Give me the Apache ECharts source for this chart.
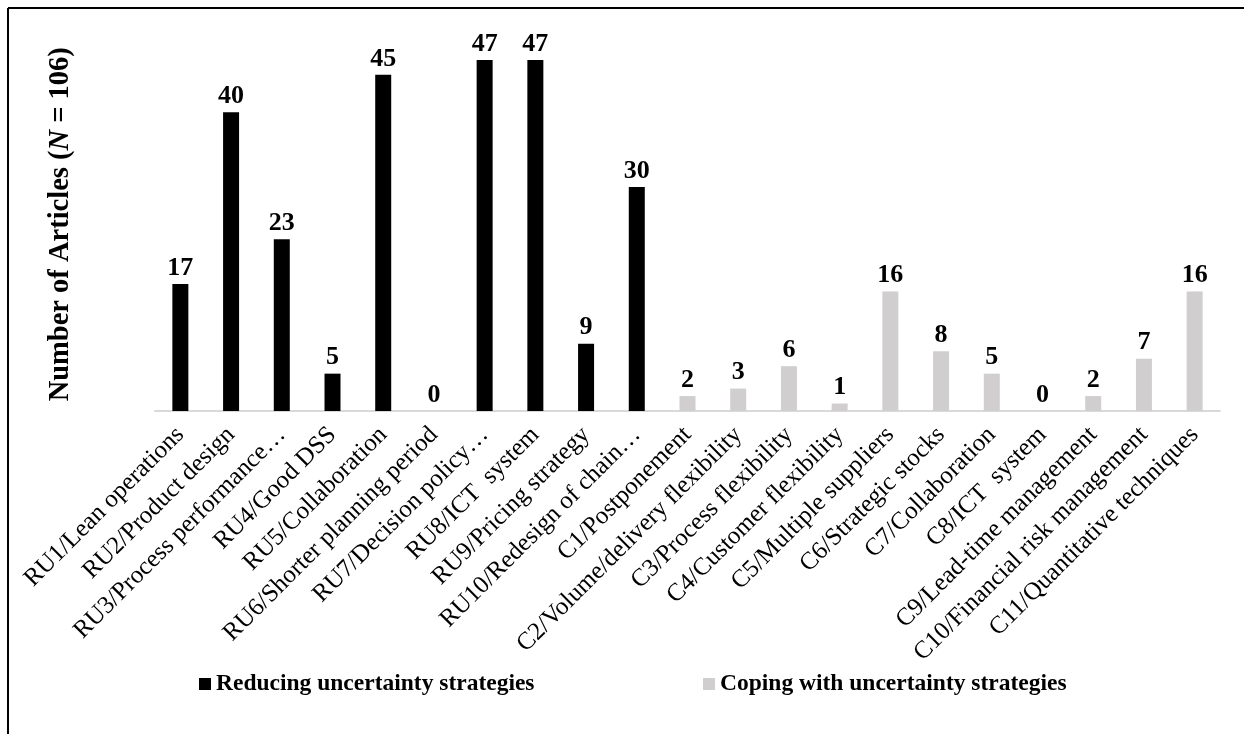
<!DOCTYPE html>
<html>
<head>
<meta charset="utf-8">
<script src="https://cdn.jsdelivr.net/npm/echarts@6/dist/echarts.min.js"></script>
<style>
  html, body { margin: 0; padding: 0; background: #fff; }
  #chart { width: 1244px; height: 734px; }
</style>
</head>
<body>
<div id="chart"></div>
<script>
// Strategy categories (labels as shown on the axis)
const categories = [
  'RU1/Lean operations', 'RU2/Product design', 'RU3/Process performance…', 'RU4/Good DSS',
  'RU5/Collaboration', 'RU6/Shorter planning period', 'RU7/Decision policy…', 'RU8/ICT  system',
  'RU9/Pricing strategy', 'RU10/Redesign of chain…',
  'C1/Postponement', 'C2/Volume/delivery flexibility', 'C3/Process flexibility',
  'C4/Customer flexibility', 'C5/Multiple suppliers', 'C6/Strategic stocks', 'C7/Collaboration',
  'C8/ICT  system', 'C9/Lead-time management', 'C10/Financial risk management',
  'C11/Quantitative techniques'
];

// Number of articles per strategy
const reducingValues = [17, 40, 23, 5, 45, 0, 47, 47, 9, 30];
const copingValues = [2, 3, 6, 1, 16, 8, 5, 0, 2, 7, 16];

const seriesNames = ['Reducing uncertainty strategies', 'Coping with uncertainty strategies'];
const yAxisTitle = 'Number of Articles (';

// Each series occupies only its own group of categories
const reducingData = categories.map((c, i) => i < reducingValues.length ? reducingValues[i] : null);
const copingData = categories.map((c, i) => i >= reducingValues.length ? copingValues[i - reducingValues.length] : null);

const serif = '"Liberation Serif", "Times New Roman", serif';

const chart = echarts.init(document.getElementById('chart'), null, { renderer: 'canvas' });

const valueLabel = {
  show: true,
  position: 'top',
  distance: 3,
  color: '#000',
  fontFamily: serif,
  fontWeight: 'bold',
  fontSize: 26
};

const legendText = { fontFamily: serif, fontWeight: 'bold', fontSize: 23.5, color: '#000' };

chart.setOption({
  backgroundColor: '#fff',
  animation: false,
  grid: { left: 155, right: 24, top: 37.5, bottom: 323, containLabel: false },
  legend: [
    {
      left: 199, top: 672, padding: 0, icon: 'rect',
      itemWidth: 12, itemHeight: 12, itemGap: 6,
      textStyle: legendText,
      data: [seriesNames[0]]
    },
    {
      left: 703, top: 672, padding: 0, icon: 'rect',
      itemWidth: 12, itemHeight: 12, itemGap: 6,
      textStyle: legendText,
      data: [seriesNames[1]]
    }
  ],
  xAxis: {
    type: 'category',
    data: categories,
    axisLine: { show: true, lineStyle: { color: '#d9d9d9', width: 2 } },
    axisTick: { show: false },
    axisLabel: {
      interval: 0,
      rotate: 45,
      margin: 20,
      color: '#000',
      fontFamily: serif,
      fontSize: 25
    }
  },
  yAxis: {
    type: 'value',
    min: 0,
    max: 50,
    axisLine: { show: false },
    axisTick: { show: false },
    axisLabel: { show: false },
    splitLine: { show: false },
    name: '{b|' + yAxisTitle + '}{i|N}{b| = 106)}',
    nameLocation: 'middle',
    nameGap: 80,
    nameRotate: 90,
    nameTextStyle: {
      rich: {
        b: { fontFamily: serif, fontWeight: 'bold', fontSize: 28.5, color: '#000' },
        i: { fontFamily: serif, fontWeight: 'bold', fontStyle: 'italic', fontSize: 28.5, color: '#000' }
      }
    }
  },
  series: [
    {
      name: seriesNames[0],
      type: 'bar',
      data: reducingData,
      barWidth: 16,
      barGap: '-100%',
      itemStyle: { color: '#000000' },
      label: valueLabel
    },
    {
      name: seriesNames[1],
      type: 'bar',
      data: copingData,
      barWidth: 16,
      barGap: '-100%',
      itemStyle: { color: '#d0cece' },
      label: valueLabel
    }
  ],
  graphic: [
    { type: 'line', shape: { x1: 8, y1: 8, x2: 1244, y2: 8 }, style: { stroke: '#000', lineWidth: 2 } },
    { type: 'line', shape: { x1: 8, y1: 8, x2: 8, y2: 734 }, style: { stroke: '#000', lineWidth: 2 } }
  ]
});
</script>
</body>
</html>
